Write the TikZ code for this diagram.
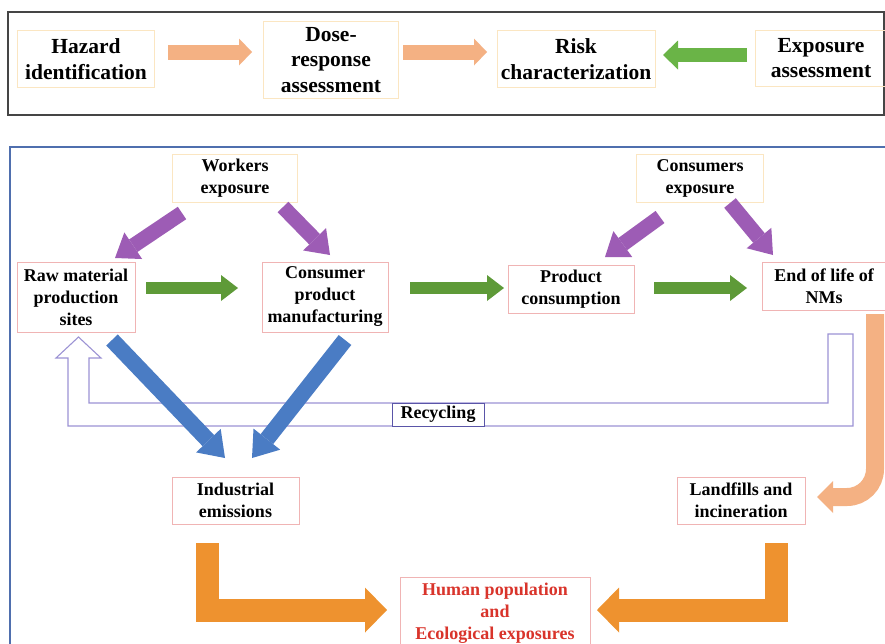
\documentclass[tikz,border=0pt]{standalone}
\usepackage{fontspec}
\setmainfont{Liberation Serif}
\usetikzlibrary{arrows.meta}
\definecolor{peach}{HTML}{F4B183}
\definecolor{tgreen}{HTML}{6AB447}
\definecolor{mgreen}{HTML}{5E9A38}
\definecolor{purp}{HTML}{9D5CB5}
\definecolor{bblue}{HTML}{4A7CC4}
\definecolor{orng}{HTML}{EE922F}
\definecolor{bpink}{HTML}{F0B4B4}
\definecolor{byel}{HTML}{FBE6C2}
\definecolor{hred}{HTML}{D9342B}
\definecolor{recyc}{HTML}{9C93D4}
\definecolor{recbox}{HTML}{5A55A8}
\definecolor{fblue}{HTML}{4F6FAE}
\definecolor{fgray}{HTML}{454545}
\newcommand\tfnt{\fontsize{21.5}{25.5}\selectfont\bfseries}
\newcommand\lfnt{\fontsize{18}{22}\selectfont\bfseries}
\tikzset{
  topbox/.style={draw=byel, line width=0.8pt, align=center, font=\tfnt, inner sep=0pt},
  lowbox/.style={draw=bpink, line width=0.8pt, fill=white, align=center, font=\lfnt, inner sep=0pt},
  expbox/.style={lowbox, draw=byel},
  fatarrow/.style n args={4}{draw=#1, line width=#2, -{Triangle[width=#3, length=#4, line width=0pt, fill=#1]}},
  peacharr/.style={fatarrow={peach}{15pt}{27pt}{13pt}},
  tgarr/.style={fatarrow={tgreen}{14pt}{29pt}{15pt}},
  mgarr/.style={fatarrow={mgreen}{12pt}{26pt}{17pt}},
  purarr/.style={fatarrow={purp}{15pt}{32pt}{22pt}},
  bluarr/.style={fatarrow={bblue}{16pt}{34pt}{24pt}},
  orarr/.style={fatarrow={orng}{23pt}{45pt}{22pt}, line join=miter},
  curarr/.style={fatarrow={peach}{18pt}{32pt}{16pt}, rounded corners=28pt},
}
\begin{document}
\begin{tikzpicture}[x=1pt,y=-1pt]
\useasboundingbox (0,0) rectangle (885,643);
\fill[white] (0,0) rectangle (885,643);
% frames
\draw[fgray, line width=1.5pt] (8,12) rectangle (884,115);
\draw[fblue, line width=1.5pt] (885,147) -- (10,147) -- (10,645);

% top row
\node[topbox, minimum width=137pt, minimum height=57pt] (haz) at (86,59) {Hazard\\identification};
\node[topbox, minimum width=135pt, minimum height=77pt] (dose) at (331,60) {Dose-\\response\\assessment};
\node[topbox, minimum width=158pt, minimum height=57pt] (risk) at (576,59) {Risk\\characterization};
\node[topbox, minimum width=132pt, minimum height=56pt] (expo) at (821,58) {Exposure\\assessment};

\coordinate (a1s) at (168,52); \coordinate (a1e) at (252,52);
\coordinate (a2s) at (403,52); \coordinate (a2e) at (487,52);
\coordinate (a3s) at (747,55); \coordinate (a3e) at (663,55);
\draw[peacharr] (a1s) -- (a1e);
\draw[peacharr] (a2s) -- (a2e);
\draw[tgarr] (a3s) -- (a3e);

% recycling loop
\draw[recyc, line width=1.1pt, line join=miter]
  (68,358) -- (56,358) -- (78.5,337) -- (101,358) -- (89,358) -- (89,403)
  -- (828,403) -- (828,334) -- (853,334) -- (853,426) -- (68,426) -- cycle;
\node[draw=recbox, line width=0.9pt, fill=white, font=\lfnt, minimum width=92pt, minimum height=23pt, inner sep=0pt] (rec) at (438,414.5) {Recycling};

% lower nodes
\node[expbox, minimum width=125pt, minimum height=48pt] (work) at (235,178) {Workers\\exposure};
\node[expbox, minimum width=127pt, minimum height=48pt] (cons) at (700,178) {Consumers\\exposure};
\node[lowbox, minimum width=118pt, minimum height=70pt] (raw) at (76,297) {Raw material\\production\\sites};
\node[lowbox, minimum width=126pt, minimum height=70pt] (cpm) at (325,297) {Consumer\\product\\manufacturing};
\node[lowbox, minimum width=126pt, minimum height=48pt] (prod) at (571,289) {Product\\consumption};
\node[lowbox, minimum width=124pt, minimum height=48pt] (eol) at (824,286) {End of life of\\NMs};
\node[lowbox, minimum width=127pt, minimum height=47pt] (ind) at (235.5,500.5) {Industrial\\emissions};
\node[lowbox, minimum width=128pt, minimum height=47pt] (land) at (741,500.5) {Landfills and\\incineration};
\node[lowbox, text=hred, minimum width=190pt, minimum height=72pt] (hum) at (495,613) {Human population\\and\\Ecological exposures};

% purple arrows
\coordinate (p1s) at (182,213); \coordinate (p1e) at (115,258);
\coordinate (p2s) at (283,207); \coordinate (p2e) at (330,255);
\coordinate (p3s) at (660,217); \coordinate (p3e) at (605,257);
\coordinate (p4s) at (730,203); \coordinate (p4e) at (773,255);
\draw[purarr] (p1s) -- (p1e);
\draw[purarr] (p2s) -- (p2e);
\draw[purarr] (p3s) -- (p3e);
\draw[purarr] (p4s) -- (p4e);

% green arrows
\coordinate (g1s) at (146,288); \coordinate (g1e) at (238,288);
\coordinate (g2s) at (410,288); \coordinate (g2e) at (504,288);
\coordinate (g3s) at (654,288); \coordinate (g3e) at (747,288);
\draw[mgarr] (g1s) -- (g1e);
\draw[mgarr] (g2s) -- (g2e);
\draw[mgarr] (g3s) -- (g3e);

% blue arrows
\coordinate (b1s) at (112,340); \coordinate (b1e) at (225,458);
\coordinate (b2s) at (345,340); \coordinate (b2e) at (252,458);
\draw[bluarr] (b1s) -- (b1e);
\draw[bluarr] (b2s) -- (b2e);

% curved peach arrow
\coordinate (cs) at (875,314); \coordinate (cc) at (875,497); \coordinate (ce) at (817,497);
\draw[curarr] (cs) -- (cc) -- (ce);

% orange L arrows
\coordinate (o1s) at (207,543); \coordinate (o1c) at (207,610); \coordinate (o1e) at (387,610);
\coordinate (o2s) at (776.5,543); \coordinate (o2c) at (776.5,610); \coordinate (o2e) at (597,610);
\draw[orarr] (o1s) -- (o1c) -- (o1e);
\draw[orarr] (o2s) -- (o2c) -- (o2e);
\end{tikzpicture}
\end{document}
